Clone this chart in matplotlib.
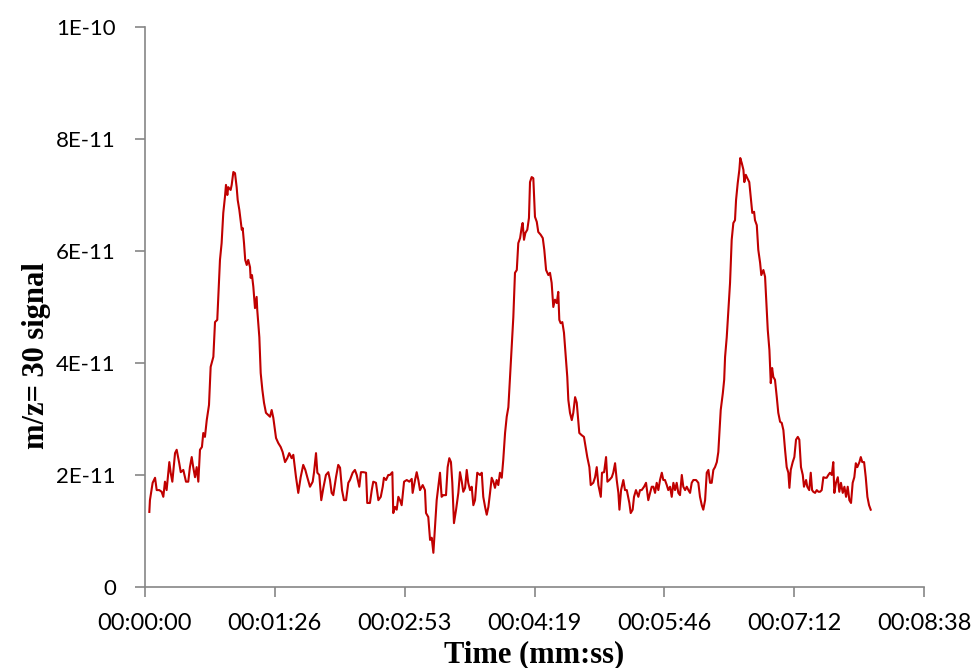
import matplotlib.pyplot as plt
import numpy as np

# m/z = 30 signal trace (time in s, signal in units of 1E-11)
time_s = [
    2.9, 3.3, 5.1, 6.7, 7.8, 9.5, 11.1, 12.2, 13.3, 14.4, 16.2, 17.1, 18.2, 20.0, 21.1, 22.8,
    23.8, 25.5, 27.3, 28.8, 29.9, 31.1, 32.1, 33.3, 34.4, 35.5, 36.6, 37.9, 38.8, 39.9, 41.1,
    42.6, 43.7, 45.5, 46.6, 48.1, 48.8, 49.9, 51.0, 52.1, 53.2, 53.9, 54.8, 55.4, 57.0, 57.7,
    58.8, 59.9, 61.0, 61.7, 62.8, 64.4, 65.0, 65.9, 66.7, 67.7, 68.7, 69.9, 70.3, 71.2, 72.1,
    73.2, 74.3, 74.7, 76.1, 77.0, 78.1, 79.2, 80.5, 82.1,
    83.2, 84.3, 85.4, 87.2, 88.7, 90.3, 91.6, 93.2, 94.7, 96.0, 97.6, 98.7, 100.5, 102.0,
    103.6, 105.3, 106.7, 108.0, 109.8, 111.6, 112.5, 113.8, 114.7, 116.0, 117.3, 118.7, 120.4,
    122.0, 123.1, 124.2, 125.3, 127.1, 128.6, 129.8, 131.1, 132.4, 133.8, 135.3, 136.4, 138.2,
    139.7, 140.9, 142.6, 143.7, 145.3, 147.1, 147.9, 149.7, 150.9, 151.9, 153.7, 155.3, 156.9,
    158.2, 159.0, 160.4, 161.9,
    163.0, 164.6, 165.2, 166.4, 167.5, 168.6, 169.7, 170.8, 172.4, 174.2, 175.9, 177.5, 178.1,
    179.7, 180.8, 181.9, 183.0, 184.8, 186.3, 187.0, 188.5, 189.7, 190.8, 191.9, 193.0, 194.1,
    195.2, 196.3, 197.4, 198.5, 200.3, 201.4, 202.5, 203.6, 204.5, 205.6, 207.0, 208.5, 209.6,
    210.8, 211.8, 213.0, 214.1, 215.1, 216.3, 217.4, 218.5, 219.6, 221.1, 222.9, 224.1, 225.1,
    226.3, 227.4, 228.5, 229.6, 230.7, 231.8, 232.9, 234.0, 235.1, 236.2, 237.4,
    238.4, 239.6, 240.7, 241.8, 242.9, 244.0, 245.1, 246.2, 247.4, 248.4, 249.6, 250.7, 251.3,
    252.2, 253.1, 254.4, 255.5, 256.2, 257.3, 258.4, 259.5, 260.7, 261.7, 263.3, 264.7, 265.7,
    266.9, 268.4, 269.5, 270.6, 271.7, 272.8, 274.0, 275.0, 275.7, 276.6, 277.7, 278.8, 280.2,
    281.0, 281.7, 282.8, 284.0, 285.0, 286.2, 287.3, 288.3, 289.0, 290.6, 292.1, 293.5, 294.3,
    295.7, 296.6, 298.3, 299.5, 300.6, 301.7, 303.3, 304.1, 305.5, 306.8, 307.7, 309.0,
    310.6, 311.6, 312.8, 313.9, 315.0, 315.7, 316.8, 318.3, 319.4, 320.6, 322.3, 323.2, 324.5,
    325.4, 326.7, 328.3, 329.4, 330.5, 332.1, 333.4, 334.9, 336.1, 337.2, 338.3, 339.4, 340.5,
    341.6, 342.7, 343.9, 344.9, 346.0, 347.2, 348.2, 349.4, 350.5, 351.6, 352.7, 353.8, 354.9,
    356.0, 357.2, 358.2, 359.4, 360.5, 361.6, 362.7, 363.8, 364.9, 366.7, 368.2, 369.3, 370.5,
    371.5, 372.7, 373.8, 374.9, 376.0, 377.1, 378.2, 379.3, 380.5, 381.5, 382.2, 383.1, 384.5,
    385.4, 386.0, 387.1, 388.2, 389.3, 390.4, 391.5, 392.6, 393.3, 394.4, 395.5, 396.1, 397.1,
    398.2, 398.8, 399.8, 400.8, 402.1, 403.1, 404.1, 405.3, 405.9, 407.1, 408.1, 409.3, 410.1,
    411.5, 412.6, 413.3, 414.4, 415.5, 416.4, 417.3, 418.1, 419.2, 420.4, 421.4, 422.6, 423.7,
    424.8, 425.9, 427.0, 428.1, 428.8, 429.7, 431.0, 432.1, 433.2, 434.4, 435.4, 436.5, 437.7,
    438.5, 439.9, 440.7, 442.0, 443.0, 443.9, 444.7, 445.9, 447.0, 448.1, 449.2, 450.3, 451.4,
    452.5, 453.6, 454.7, 455.8, 457.0, 458.0, 458.7, 459.8, 461.0, 462.0, 463.1, 464.3, 465.4,
    466.5, 467.6, 468.7, 469.8, 470.9, 472.0, 473.0, 474.0, 475.4, 476.3, 477.3, 478.5, 479.6,
    480.7, 481.8, 482.9,
]
signal_e11 = [
    1.34, 1.55, 1.86, 1.95, 1.73, 1.73, 1.70, 1.61, 1.88, 1.73, 2.23, 2.04, 1.88, 2.39, 2.45, 2.21,
    2.05, 2.09, 1.88, 1.88, 2.14, 2.32, 2.14, 1.96, 2.14, 1.88, 2.45, 2.50, 2.75, 2.68, 2.98,
    3.25, 3.93, 4.11, 4.73, 4.77, 5.18, 5.84, 6.14, 6.68, 6.96, 7.18, 7.00, 7.14, 7.09, 7.18,
    7.41, 7.39, 7.14, 6.91, 6.73, 6.38, 6.41, 6.14, 5.84, 5.75, 5.84, 5.71, 5.52, 5.57, 5.36,
    4.98, 5.18, 4.95, 4.46, 3.82, 3.52, 3.29, 3.11, 3.07,
    3.04, 3.16, 3.02, 2.66, 2.57, 2.50, 2.41, 2.23, 2.30, 2.39, 2.30, 2.36, 1.96, 1.68,
    1.96, 2.18, 2.09, 1.96, 1.79, 1.88, 2.05, 2.39, 2.04, 2.00, 1.55, 1.77, 2.00,
    2.05, 1.91, 1.68, 1.64, 1.96, 2.18, 2.13, 1.73, 1.55, 1.55, 1.86, 1.91, 2.04,
    2.09, 2.00, 1.79, 2.05, 2.05, 2.04, 1.50, 1.50, 1.73, 1.88, 1.86, 1.55, 1.61,
    1.79, 1.95, 1.91, 2.00,
    2.00, 2.05, 1.32, 1.43, 1.38, 1.61, 1.55, 1.46, 1.88, 1.91, 1.88, 1.93, 1.68,
    1.91, 2.05, 1.91, 1.73, 1.82, 1.73, 1.32, 1.25, 0.84, 0.88, 0.61, 1.07, 1.55,
    1.79, 2.04, 1.61, 1.64, 1.64, 2.14, 2.30, 2.23, 1.86, 1.14, 1.38, 1.68, 2.05,
    1.88, 1.70, 1.77, 2.09, 1.86, 1.73, 1.79, 1.46, 1.55, 2.04, 2.00, 2.04, 1.61,
    1.43, 1.29, 1.43, 1.68, 1.95, 1.88, 1.77, 1.91, 1.82, 2.04, 1.95,
    2.27, 2.75, 3.04, 3.21, 3.75, 4.29, 4.82, 5.61, 5.66, 6.14, 6.23, 6.43, 6.50,
    6.20, 6.32, 6.38, 6.59, 7.23, 7.32, 7.30, 6.61, 6.52, 6.34, 6.29, 6.23, 6.02,
    5.66, 5.57, 5.61, 5.43, 5.00, 5.13, 5.07, 5.27, 4.77, 4.71, 4.73, 4.54, 4.05,
    3.75, 3.34, 3.11, 2.98, 3.11, 3.39, 3.29, 2.98, 2.75, 2.71, 2.68, 2.45, 2.32,
    2.14, 1.82, 1.86, 1.96, 2.14, 1.82, 1.61, 2.04, 2.05, 2.32, 1.88, 1.91,
    1.96, 2.04, 2.21, 1.91, 1.68, 1.38, 1.73, 1.91, 1.73, 1.73, 1.50, 1.32, 1.38,
    1.61, 1.73, 1.61, 1.73, 1.73, 1.79, 1.86, 1.55, 1.68, 1.79, 1.79, 1.68, 1.86,
    1.73, 1.91, 2.04, 1.91, 1.91, 1.82, 1.73, 1.79, 1.61, 1.86, 1.73, 1.86, 1.68,
    1.64, 2.00, 1.79, 1.73, 1.79, 1.73, 1.68, 1.86, 1.91, 1.91, 1.86, 1.61, 1.46,
    1.38, 1.55, 2.04, 2.09, 1.86, 1.86, 2.09, 2.14, 2.23, 2.41, 2.75, 3.16, 3.46,
    3.70, 4.11, 4.46, 4.95, 5.43, 6.20, 6.50, 6.55, 6.91, 7.21, 7.45, 7.66, 7.57,
    7.45, 7.23, 7.36, 7.30, 7.23, 6.96, 6.68, 6.70, 6.55, 6.46, 6.02, 5.79, 5.57,
    5.66, 5.54, 5.18, 4.59, 4.23, 3.64, 3.91, 3.75, 3.70, 3.39, 3.11, 2.95, 2.93,
    2.80, 2.45, 2.14, 2.04, 1.77, 2.09, 2.23, 2.32, 2.63, 2.68, 2.63, 2.14, 2.00,
    1.79, 1.91, 1.79, 1.73, 2.04, 1.73, 1.70, 1.68, 1.73, 1.70, 1.70, 1.73, 1.96,
    1.95, 1.95, 2.00, 2.04, 2.00, 2.23, 1.68, 1.86, 1.96, 1.70, 1.86, 1.68, 1.79,
    1.61, 1.79, 1.55, 1.50, 1.86, 1.96, 2.21, 2.14, 2.23, 2.32, 2.23, 2.23, 1.96,
    1.61, 1.46, 1.38,
]

x_ticks = [0, 86.4, 172.8, 259.2, 345.6, 432.0, 518.4]
x_labels = ['00:00:00', '00:01:26', '00:02:53', '00:04:19', '00:05:46', '00:07:12', '00:08:38']
y_ticks = [0, 2e-11, 4e-11, 6e-11, 8e-11, 1e-10]
y_labels = ['0', '2E-11', '4E-11', '6E-11', '8E-11', '1E-10']

fig = plt.figure(figsize=(9.73, 6.68), dpi=100)
ax = fig.add_axes([0.149, 0.1213, 0.8007, 0.8383])

ax.plot(time_s, np.array(signal_e11) * 1e-11, color='#C00000', linewidth=1.5)

ax.set_xlim(0, 518.4)
ax.set_ylim(0, 1e-10)
ax.set_xticks(x_ticks)
ax.set_xticklabels(x_labels)
ax.set_yticks(y_ticks)
ax.set_yticklabels(y_labels)

for side in ['top', 'right']:
    ax.spines[side].set_visible(False)
for side in ['left', 'bottom']:
    ax.spines[side].set_color('#868686')
    ax.spines[side].set_linewidth(1.2)

ax.tick_params(axis='both', direction='out', length=7, width=1.2, color='#868686',
               labelcolor='black')
ax.tick_params(axis='x', pad=12, labelsize=17)
ax.tick_params(axis='y', pad=14, labelsize=16)
for lab in ax.get_xticklabels() + ax.get_yticklabels():
    lab.set_fontfamily('Lato')

ax.set_xlabel('Time (mm:ss)', fontfamily='Liberation Serif', fontweight='bold', fontsize=22,
              va='center')
ax.set_ylabel('m/z= 30 signal', fontfamily='Liberation Serif', fontweight='bold', fontsize=22,
              va='center')
ax.xaxis.set_label_coords(0.5, -0.121)
ax.yaxis.set_label_coords(-0.1386, 0.4125)

fig.savefig('out.png', dpi=100)
